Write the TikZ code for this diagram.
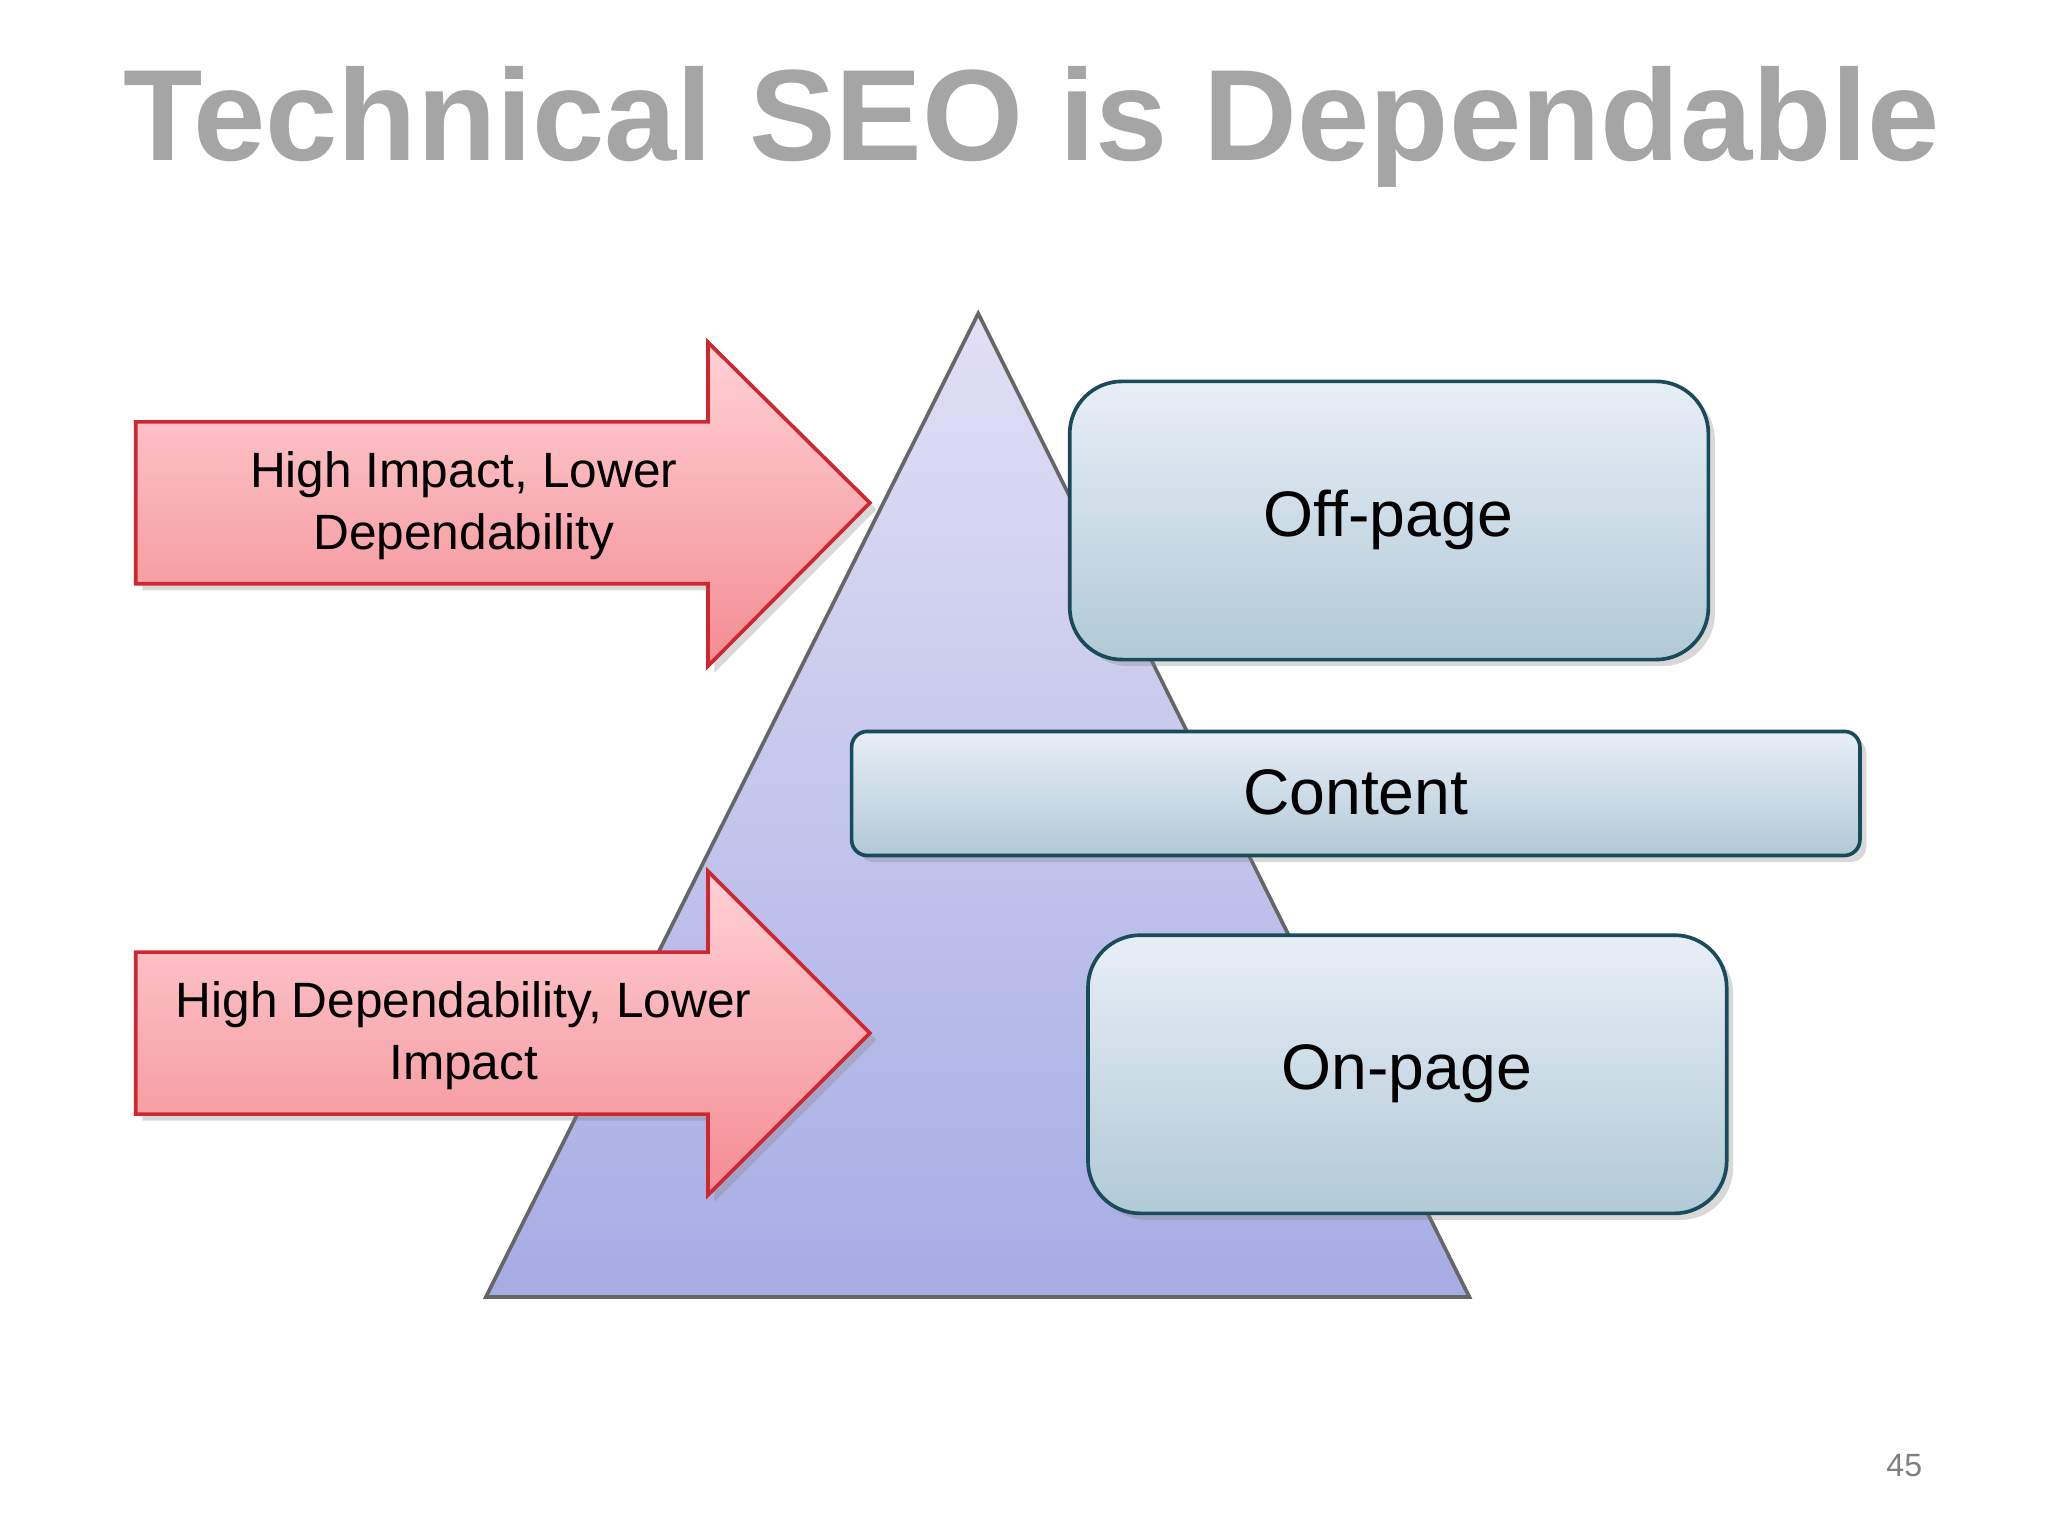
\documentclass[tikz,border=0pt]{standalone}
\usepackage{fontspec}
\setmainfont{Liberation Sans}
\usetikzlibrary{shadows}
\definecolor{tri1}{RGB}{226,223,245}
\definecolor{tri2}{RGB}{166,172,228}
\definecolor{pk1}{RGB}{255,210,214}
\definecolor{pk2}{RGB}{243,140,146}
\definecolor{pkline}{RGB}{205,40,50}
\definecolor{bx1}{RGB}{232,238,246}
\definecolor{bx2}{RGB}{176,202,214}
\definecolor{bxline}{RGB}{25,75,90}
\definecolor{ttl}{RGB}{165,165,165}
\tikzset{
  px/.style={x=0.01cm,y=-0.01cm},
  arrowshape/.style={draw=pkline,line width=0.8pt,top color=pk1,bottom color=pk2,drop shadow={shadow xshift=0.05cm,shadow yshift=-0.05cm,opacity=0.3}},
  boxshape/.style={draw=bxline,line width=0.8pt,top color=bx1,bottom color=bx2,drop shadow={shadow xshift=0.05cm,shadow yshift=-0.05cm,opacity=0.3}},
  arrtext/.style={font=\fontsize{10.8}{13.5}\selectfont,align=center,text=black},
  boxtext/.style={font=\fontsize{14}{17}\selectfont,text=black}
}
\begin{document}
\begin{tikzpicture}[px]
\useasboundingbox (0,0) rectangle (1568,1176);
\fill[white] (0,0) rectangle (1568,1176);
\node (title) at (790,97) {\resizebox{13.9cm}{!}{\textbf{\color{ttl}Technical SEO is Dependable}}};
% pyramid
\path[draw=gray!80!black,line width=0.8pt,top color=tri1,bottom color=tri2] (749,240) coordinate (apex) -- (1125,993) -- (372,993) -- cycle;
% arrows
\path[arrowshape] (104,323) -- (542,323) -- (542,262) -- (666,385) -- (542,510) -- (542,447) -- (104,447) -- cycle;
\node[arrtext] (a1) at (355,387) {High Impact, Lower\\Dependability};
\path[arrowshape] (104,729) -- (542,729) -- (542,667) -- (666,791) -- (542,915) -- (542,853) -- (104,853) -- cycle;
\node[arrtext] (a2) at (355,793) {High Dependability, Lower\\Impact};
% boxes
\draw[boxshape,rounded corners=0.4cm] (819,292) rectangle (1308,505);
\node[boxtext] (off) at (1063,398) {Off-page};
\draw[boxshape,rounded corners=0.12cm] (652,560) rectangle (1424,655);
\node[boxtext] (content) at (1038,607) {Content};
\draw[boxshape,rounded corners=0.4cm] (833,716) rectangle (1322,929);
\node[boxtext] (on) at (1077,822) {On-page};
\node[font=\fontsize{7}{8}\selectfont,text=gray] (num) at (1458,1122) {45};
\end{tikzpicture}
\end{document}
